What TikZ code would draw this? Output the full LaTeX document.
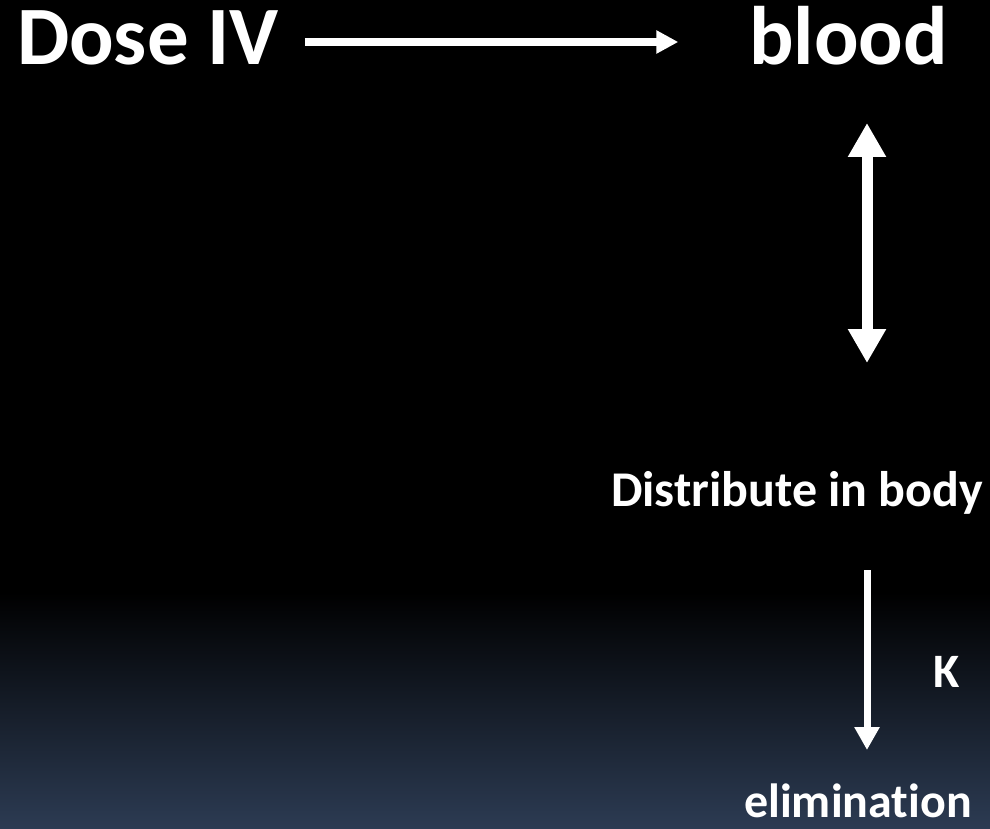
\documentclass[tikz,border=0pt]{standalone}
\usepackage{fontspec}
\setmainfont{Carlito}[Ligatures=NoCommon]
\usetikzlibrary{arrows.meta}
\definecolor{bgbot}{RGB}{44,59,83}
\begin{document}
\begin{tikzpicture}[x=1pt,y=-1pt,
  lbl/.style={text=white,inner sep=0pt,outer sep=0pt},
  big/.style={lbl,font=\fontsize{83}{83}\selectfont\bfseries},
  mid/.style={lbl,font=\fontsize{48}{48}\selectfont\bfseries},
  dst/.style={lbl,font=\fontsize{50}{50}\selectfont\bfseries},
  arrH/.style={draw=white,line width=8pt,-{Triangle[width=22pt,length=22pt]}},
  arrD/.style={draw=white,line width=11pt,{Triangle[width=36pt,length=34pt]}-{Triangle[width=36pt,length=34pt]}},
  arrK/.style={draw=white,line width=7pt,-{Triangle[width=24pt,length=23pt]}}]
\useasboundingbox (0,0) rectangle (990,829);
\fill[black] (0,0) rectangle (990,593);
\shade[top color=black,bottom color=bgbot] (0,592) rectangle (990,829);
\node[big,anchor=base west] (dose) at (17,65) {Dose IV};
\node[big,anchor=base east] (blood) at (948,65) {blood};
\node[dst,anchor=base west] (dist) at (611,506) {Distribute in body};
\node[mid,anchor=base west] (k) at (933,687) {K};
\node[mid,anchor=base] (elim) at (858,817) {elimination};
\coordinate (ax) at (867,0);
\draw[arrH,shorten <=26pt,shorten >=71pt] ([yshift=23pt]dose.base east) -- ([yshift=23pt]blood.base west);
\draw[arrD,shorten <=58pt,shorten >=143pt] (blood.base -| ax) -- (dist.base -| ax);
\draw[arrK,shorten <=64pt,shorten >=67pt] (dist.base -| ax) -- (elim.base -| ax);
\end{tikzpicture}
\end{document}
